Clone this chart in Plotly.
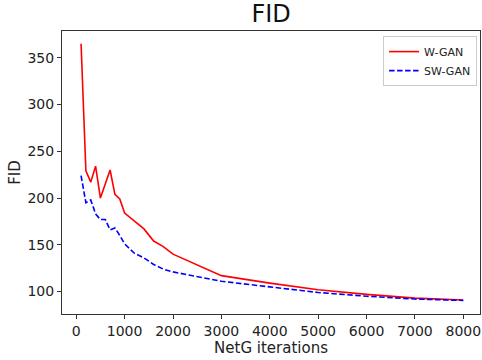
import plotly.graph_objects as go

wgan_x = [100, 200, 300, 400, 500, 600, 700, 800, 900, 1000, 1200, 1400, 1600, 1800, 2000, 3000, 4000, 5000, 6000, 7000, 8000]
wgan_y = [365, 229, 217, 234, 200, 215, 230, 204, 199, 184, 176, 167, 154, 148, 140, 117, 109, 102, 97, 93, 91]

swgan_x = [100, 200, 300, 400, 500, 600, 700, 800, 900, 1000, 1200, 1400, 1600, 1800, 2000, 3000, 4000, 5000, 6000, 7000, 8000]
swgan_y = [224, 195, 198, 183, 177, 177, 166, 168, 160, 151, 141, 136, 129, 124, 121, 111, 105, 99, 95, 92, 90.5]

x_ticks = [0, 1000, 2000, 3000, 4000, 5000, 6000, 7000, 8000]
y_ticks = [100, 150, 200, 250, 300, 350]

fig = go.Figure()
fig.add_trace(go.Scatter(x=wgan_x, y=wgan_y, mode="lines", name="W-GAN",
                         line=dict(color="#ff0000", width=1.6)))
fig.add_trace(go.Scatter(x=swgan_x, y=swgan_y, mode="lines", name="SW-GAN",
                         line=dict(color="#0000ff", width=1.6, dash="5.5px,2.5px")))

axis_common = dict(showgrid=False, zeroline=False, showline=True, linecolor="#333333",
                   linewidth=1, mirror=True, ticks="outside", ticklen=4, tickcolor="#333333",
                   tickfont=dict(family="DejaVu Sans", size=14, color="#222222"))

fig.update_layout(
    width=482, height=360,
    margin=dict(l=62, r=2, t=31, b=46, autoexpand=False),
    paper_bgcolor="white", plot_bgcolor="white",
    title=dict(text="FID", x=0.5625, xanchor="center", y=0.985, yanchor="top",
               font=dict(family="DejaVu Sans", size=24, color="#111111")),
    xaxis=dict(range=[-294, 8345], tickvals=x_ticks, automargin=False,
               title=dict(text="NetG iterations", standoff=1,
                          font=dict(family="DejaVu Sans", size=15, color="#222222")),
               **axis_common),
    yaxis=dict(range=[76, 378.6], tickvals=y_ticks, automargin=False,
               title=dict(text="FID", standoff=3,
                          font=dict(family="DejaVu Sans", size=15, color="#222222")),
               **axis_common),
    legend=dict(x=0.993, y=0.982, xanchor="right", yanchor="top",
                bgcolor="rgba(255,255,255,0.8)", bordercolor="#cccccc", borderwidth=1,
                font=dict(family="DejaVu Sans", size=11, color="#222222"),
                itemwidth=30, tracegroupgap=0),
    showlegend=True,
)

fig.write_html("out.html", config={"displayModeBar": False},
               post_script="document.body.style.margin='0';document.body.style.overflow='hidden';")
